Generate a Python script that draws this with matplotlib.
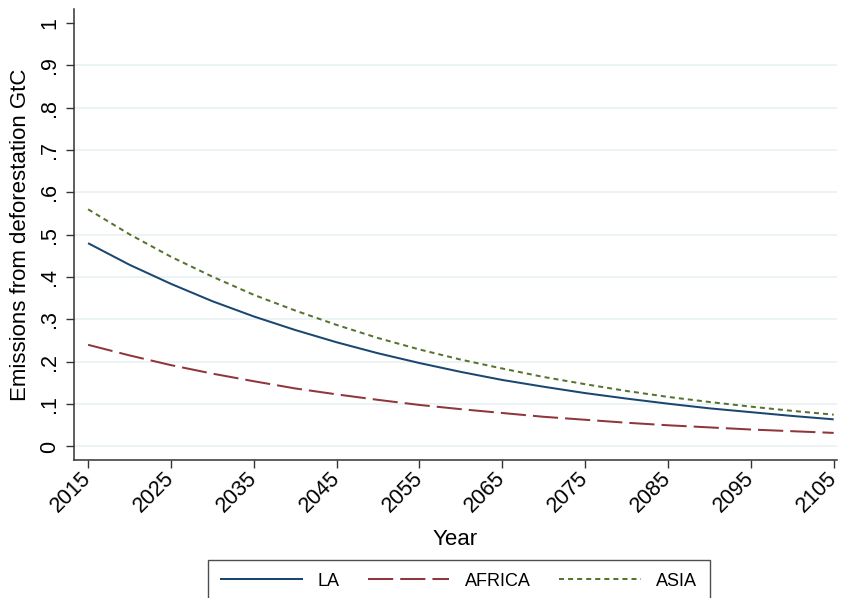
import matplotlib
matplotlib.use("Agg")
import matplotlib.pyplot as plt
from matplotlib.lines import Line2D

plt.rcParams['font.family'] = ['Liberation Sans', 'DejaVu Sans']

# Emissions from deforestation (GtC) by region, 5-year steps
years = [2015, 2020, 2025, 2030, 2035, 2040, 2045, 2050, 2055, 2060,
         2065, 2070, 2075, 2080, 2085, 2090, 2095, 2100, 2105]
la = [0.480, 0.429, 0.384, 0.343, 0.307, 0.275, 0.246, 0.220, 0.197, 0.176,
      0.157, 0.141, 0.126, 0.113, 0.101, 0.090, 0.081, 0.072, 0.064]
africa = [0.240, 0.215, 0.192, 0.172, 0.154, 0.137, 0.123, 0.110, 0.098, 0.088,
          0.079, 0.070, 0.063, 0.056, 0.050, 0.045, 0.040, 0.036, 0.032]
asia = [0.560, 0.501, 0.448, 0.401, 0.358, 0.321, 0.287, 0.256, 0.229, 0.205,
        0.184, 0.164, 0.147, 0.131, 0.117, 0.105, 0.094, 0.084, 0.075]

series_names = ["LA", "AFRICA", "ASIA"]
x_ticks = list(range(2015, 2106, 10))
y_ticks = [0, 0.1, 0.2, 0.3, 0.4, 0.5, 0.6, 0.7, 0.8, 0.9, 1.0]
y_tick_labels = ["0", ".1", ".2", ".3", ".4", ".5", ".6", ".7", ".8", ".9", "1"]

c_la = "#1a476f"
c_af = "#90353b"
c_as = "#55752f"
lw = 1.45

W, H = 843, 598
fig = plt.figure(figsize=(W / 100, H / 100), dpi=100)
ax = fig.add_axes([74 / W, 1 - 460 / H, (837 - 74) / W, (460 - 9) / H])

ax.set_xlim(2013.3, 2105.4)
ax.set_ylim(-0.032, 1.033)

# horizontal gridlines
for yv in y_ticks[:-1]:
    ax.axhline(yv, color="#eaf2f3", lw=1.3, zorder=0)

l1, = ax.plot(years, la, color=c_la, lw=lw, solid_capstyle="butt")
l2, = ax.plot(years, africa, color=c_af, lw=lw, linestyle=(0, (12.5, 3.5)))
l3, = ax.plot(years, asia, color=c_as, lw=lw, linestyle=(0, (2.5, 2.0)))

for side in ("top", "right"):
    ax.spines[side].set_visible(False)
for side in ("left", "bottom"):
    ax.spines[side].set_color("#333333")
    ax.spines[side].set_linewidth(1.1)

ax.set_xticks(x_ticks)
ax.set_xticklabels([str(v) for v in x_ticks], rotation=45, ha="right",
                   va="center", rotation_mode="anchor", fontsize=15.5)
ax.set_yticks(y_ticks)
ax.set_yticklabels(y_tick_labels, rotation=90, va="center", fontsize=15.5)
ax.tick_params(axis="both", direction="out", length=6, width=1.0,
               color="#333333")
ax.tick_params(axis="y", pad=4)
ax.tick_params(axis="x", pad=5)

ax.set_xlabel("Year", fontsize=16, labelpad=9)
ax.set_ylabel("Emissions from deforestation GtC", fontsize=16, labelpad=6)

handles = [Line2D([], [], color=c_la, lw=lw),
           Line2D([], [], color=c_af, lw=lw, linestyle=(0, (12.5, 3.5))),
           Line2D([], [], color=c_as, lw=lw, linestyle=(0, (2.5, 2.0)))]
leg = fig.legend(handles, series_names, ncol=3, loc="upper left",
                 bbox_to_anchor=(208 / W, 1 - 560 / H), fontsize=13,
                 frameon=True, fancybox=False, edgecolor="#222222",
                 handlelength=4.5, handletextpad=0.85, columnspacing=1.6,
                 borderpad=0.7, borderaxespad=0.0)
leg.get_frame().set_linewidth(1.0)

fig.savefig("out.png", dpi=100)
